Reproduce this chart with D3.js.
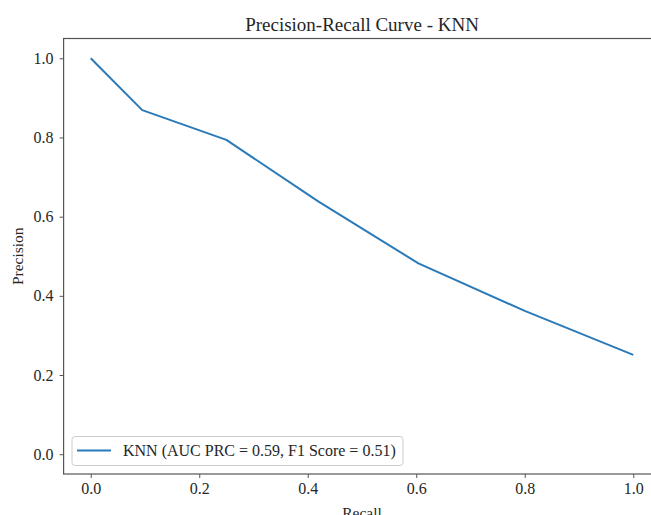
<!DOCTYPE html>
<html>
<head>
<meta charset="utf-8">
<script src="https://cdn.jsdelivr.net/npm/d3@7"></script>
<style>
  html, body { margin: 0; padding: 0; background: #fff; }
  svg { display: block; font-family: "Liberation Serif", "DejaVu Serif", serif; }
</style>
</head>
<body>
<svg id="chart" width="651" height="515"></svg>
<script>
// Precision-recall points for the KNN classifier
const recall    = [0.0, 0.095, 0.25, 0.42, 0.604, 0.80, 1.0];
const precision = [1.0, 0.869, 0.794, 0.638, 0.482, 0.362, 0.251];
const xTicks = [0.0, 0.2, 0.4, 0.6, 0.8, 1.0];
const yTicks = [0.0, 0.2, 0.4, 0.6, 0.8, 1.0];
const seriesName = "KNN";
const aucPrc = 0.59;
const f1Score = 0.51;

const svg = d3.select("#chart");
const plotLeft = 63.6, plotRight = 660.4, plotTop = 38.5, plotBottom = 474;

const x = d3.scaleLinear().domain([-0.05, 1.05]).range([plotLeft, plotRight]);
const y = d3.scaleLinear().domain([-0.05, 1.05]).range([plotBottom, plotTop]);

const textColor = "#262626";
const spineColor = "#555";

// frame
svg.append("rect")
  .attr("x", plotLeft).attr("y", plotTop)
  .attr("width", plotRight - plotLeft).attr("height", plotBottom - plotTop)
  .attr("fill", "none").attr("stroke", spineColor).attr("stroke-width", 1.2);

// x axis
const xAxis = svg.append("g").attr("transform", `translate(0,${plotBottom})`)
  .call(d3.axisBottom(x).tickValues(xTicks).tickFormat(d3.format(".1f")).tickSize(4).tickPadding(5));
xAxis.select(".domain").remove();
xAxis.selectAll("line").attr("stroke", spineColor);
xAxis.selectAll("text").attr("fill", textColor).style("font-size", "16px")
  .style("font-family", "'Liberation Serif', serif");

// y axis
const yAxis = svg.append("g").attr("transform", `translate(${plotLeft},0)`)
  .call(d3.axisLeft(y).tickValues(yTicks).tickFormat(d3.format(".1f")).tickSize(4).tickPadding(6));
yAxis.select(".domain").remove();
yAxis.selectAll("line").attr("stroke", spineColor);
yAxis.selectAll("text").attr("fill", textColor).style("font-size", "16px")
  .style("font-family", "'Liberation Serif', serif");

// curve
const pts = recall.map((r, i) => [r, precision[i]]);
svg.append("path")
  .datum(pts)
  .attr("fill", "none")
  .attr("stroke", "#2a7ab9")
  .attr("stroke-width", 2)
  .attr("stroke-linejoin", "round")
  .attr("d", d3.line().x(d => x(d[0])).y(d => y(d[1])));

// title and axis labels
svg.append("text")
  .attr("x", (plotLeft + plotRight) / 2).attr("y", 31)
  .attr("text-anchor", "middle").attr("fill", textColor)
  .style("font-size", "19px")
  .text(`Precision-Recall Curve - ${seriesName}`);

svg.append("text")
  .attr("x", (plotLeft + plotRight) / 2).attr("y", 518)
  .attr("text-anchor", "middle").attr("fill", textColor)
  .style("font-size", "15.5px")
  .text("Recall");

svg.append("text")
  .attr("transform", `translate(23,${(plotTop + plotBottom) / 2}) rotate(-90)`)
  .attr("text-anchor", "middle").attr("fill", textColor)
  .style("font-size", "15.5px")
  .text("Precision");

// legend
const legend = svg.append("g");
legend.append("rect")
  .attr("x", 72).attr("y", 436.5).attr("width", 331).attr("height", 29).attr("rx", 3)
  .attr("fill", "#fff").attr("fill-opacity", 0.8)
  .attr("stroke", "#ccc").attr("stroke-width", 1);
legend.append("line")
  .attr("x1", 77).attr("x2", 111).attr("y1", 450.5).attr("y2", 450.5)
  .attr("stroke", "#2a7ab9").attr("stroke-width", 2);
legend.append("text")
  .attr("x", 123).attr("y", 456)
  .attr("fill", textColor).style("font-size", "16px")
  .text(`${seriesName} (AUC PRC = ${aucPrc.toFixed(2)}, F1 Score = ${f1Score.toFixed(2)})`);
</script>
</body>
</html>
